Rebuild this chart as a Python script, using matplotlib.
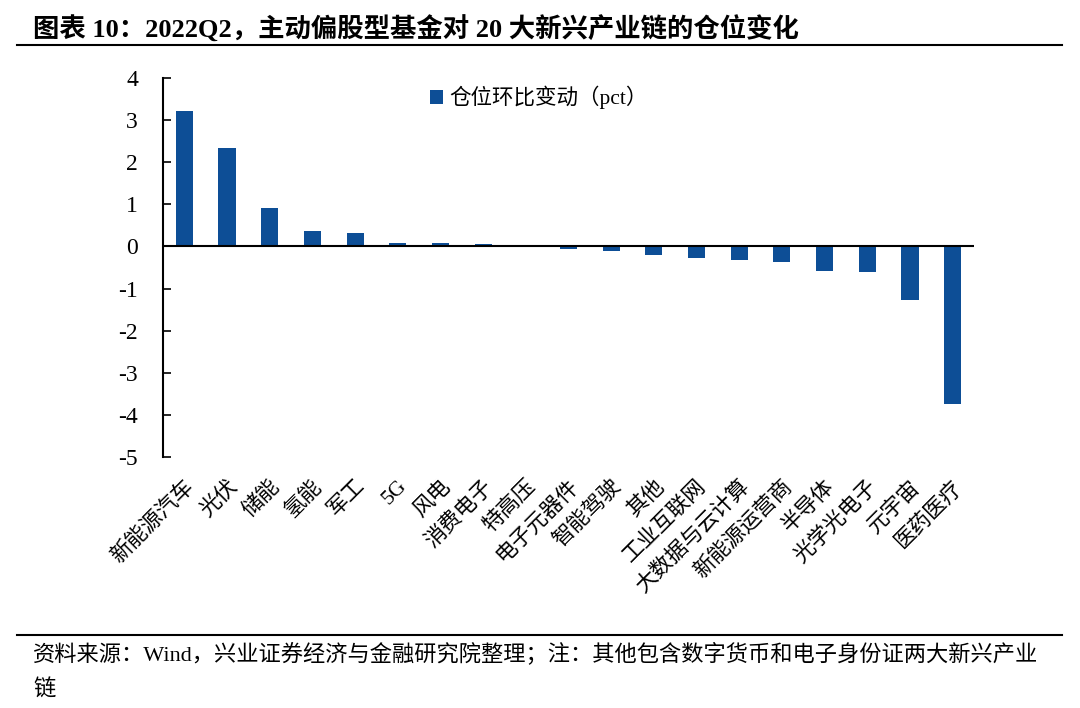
import numpy as np
import matplotlib.pyplot as plt
from matplotlib.lines import Line2D

plt.rcParams['font.family'] = ['Liberation Serif', 'Noto Sans CJK SC']
plt.rcParams['axes.unicode_minus'] = False

chains = ["新能源汽车", "光伏", "储能", "氢能", "军工", "5G", "风电", "消费电子",
          "特高压", "电子元器件", "智能驾驶", "其他", "工业互联网", "大数据与云计算",
          "新能源运营商", "半导体", "光学光电子", "元宇宙", "医药医疗"]
change_pct = [3.22, 2.34, 0.92, 0.36, 0.31, 0.09, 0.07, 0.05, 0.01, -0.07,
              -0.10, -0.20, -0.27, -0.33, -0.37, -0.58, -0.60, -1.26, -3.75]
yticks = [4, 3, 2, 1, 0, -1, -2, -3, -4, -5]

bar_color = "#0D4E96"

fig = plt.figure(figsize=(10.8, 7.08), dpi=100)
ax = fig.add_axes([163 / 1080, 1 - 457 / 708, (974 - 163) / 1080, (457 - 78) / 708])

x = np.arange(len(chains))
ax.bar(x, change_pct, width=0.4, color=bar_color, label="仓位环比变动（pct）", zorder=2)
ax.axhline(0, color="black", lw=1.5, zorder=3)

ax.set_xlim(-0.5, len(chains) - 0.5)
ax.set_ylim(-5, 4)
ax.set_yticks(yticks)
ax.set_yticklabels([str(t) for t in yticks], fontsize=17)
ax.tick_params(axis="y", direction="in", length=6, width=1.2, pad=18)
ax.set_xticks(x)
ax.set_xticklabels(chains, rotation=45, ha="right", va="top", rotation_mode="anchor", fontsize=15.5)
ax.tick_params(axis="x", length=0, pad=14)
for s in ["top", "right", "bottom"]:
    ax.spines[s].set_visible(False)
ax.spines["left"].set_linewidth(1.5)

ax.legend(loc="upper left", bbox_to_anchor=(430 / 1080, 1 - 86 / 708), bbox_transform=fig.transFigure,
          frameon=False, fontsize=15.5, handlelength=0.6, handleheight=0.6, handletextpad=0.3,
          borderpad=0, borderaxespad=0)

# title and footer
fig.text(33 / 1080, 1 - 29 / 708, "图表 10：2022Q2，主动偏股型基金对 20 大新兴产业链的仓位变化",
         fontsize=19, fontweight="bold", va="center", ha="left")
fig.add_artist(Line2D([17 / 1080, 1062 / 1080], [1 - 45 / 708, 1 - 45 / 708], color="black", lw=1.5))
fig.add_artist(Line2D([17 / 1080, 1062 / 1080], [1 - 635 / 708, 1 - 635 / 708], color="black", lw=1.5))
fig.text(33 / 1080, 1 - 654 / 708,
         "资料来源：Wind，兴业证券经济与金融研究院整理；注：其他包含数字货币和电子身份证两大新兴产业",
         fontsize=16, va="center", ha="left")
fig.text(33 / 1080, 1 - 690 / 708, "链", fontsize=16, va="center", ha="left")

fig.savefig("out.png", dpi=100)
